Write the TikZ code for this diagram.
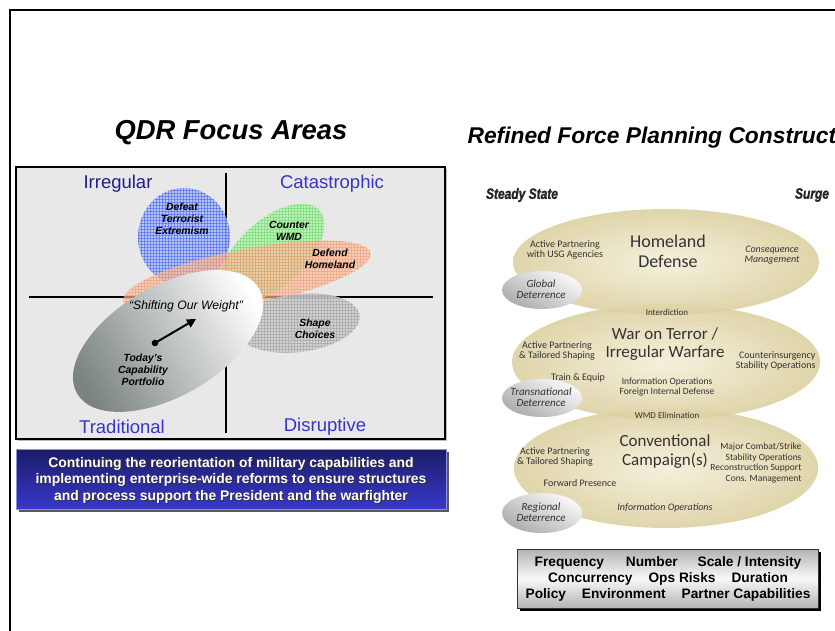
\documentclass[tikz,border=0pt]{standalone}
\usepackage{fontspec}
\setmainfont{Liberation Sans}
\newfontfamily\calfont{Carlito}
\newfontfamily\heavyfont[FakeStretch=0.8,FakeBold=1.5]{Liberation Sans}
\usetikzlibrary{patterns,arrows.meta}
\newcommand{\myfs}[2]{\fontsize{#1}{#2}\selectfont}
\definecolor{navyq}{HTML}{1E1E8E}
\definecolor{blueq}{HTML}{3535CC}
\definecolor{quadbg}{HTML}{E8E8E8}
\definecolor{beigeL}{HTML}{F4EFD8}
\definecolor{beigeD}{HTML}{DCD1A2}
\definecolor{rtxt}{HTML}{333333}
\definecolor{boxtop}{HTML}{1C1C66}
\definecolor{boxbot}{HTML}{3838CC}
\definecolor{ellblue}{HTML}{AEBFFA}
\definecolor{gridblue}{HTML}{4A66F0}
\definecolor{ellgreen}{HTML}{B0F4AA}
\definecolor{gridgreen}{HTML}{5CCC5C}
\definecolor{ellorange}{HTML}{F9C0A2}
\definecolor{gridorange}{HTML}{F08A5C}
\definecolor{ellgray}{HTML}{CDCDCD}
\definecolor{elldark}{HTML}{7A8282}
\definecolor{boxedge}{HTML}{9090DD}
\tikzset{
  quadlbl/.style={font=\myfs{18.5}{22}},
  ellbl/.style={font=\myfs{10.4}{12}\bfseries\itshape, align=center, text=black},
  rbig/.style={font=\calfont\myfs{18}{20}, align=center, text=rtxt},
  rsmall/.style={font=\calfont\myfs{10}{10.5}, align=center, text=rtxt},
  rital/.style={font=\calfont\myfs{10}{10.5}\itshape, align=center, text=rtxt},
  dsmall/.style={font=\calfont\myfs{11}{11}\itshape, align=center, text=rtxt},
}
\begin{document}
\begin{tikzpicture}[x=1pt,y=-1pt]
\useasboundingbox (0,0) rectangle (835,631);
\fill[white] (0,0) rectangle (835,631);
% outer frame
\draw[line width=2pt] (10,640) -- (10,10) -- (845,10);

% titles
\node[font=\myfs{27.4}{30}\bfseries\itshape] (t1) at (231,133) {QDR Focus Areas};
\node[font=\myfs{22.8}{26}\bfseries\itshape, anchor=west] (t2) at (464,138) {Refined Force Planning Construct};

% ---------- left quadrant panel ----------
\fill[gray!55] (18,169) rectangle (447,441);
\fill[quadbg] (16,167) rectangle (445,439);
\draw[line width=1.8pt] (16,167) rectangle (445,439);
\coordinate (vt) at (226,173);
\coordinate (vb) at (226,433);
\coordinate (hl) at (29,297);
\coordinate (hr) at (433,297);
\draw[line width=2.2pt] (vt) -- (vb);
\draw[line width=2.2pt] (hl) -- (hr);

\node[quadlbl, text=navyq] (irr) at (118,184) {Irregular};
\node[quadlbl, text=blueq] (cat) at (332,184) {Catastrophic};
\node[quadlbl, text=blueq] (tra) at (122,427) {Traditional};
\node[quadlbl, text=blueq] (dis) at (325,427) {Disruptive};

% blue ellipse
\fill[ellblue, fill opacity=0.88] (184,237) ellipse [x radius=46, y radius=49];
\fill[pattern=grid, pattern color=gridblue, opacity=0.6] (184,237) ellipse [x radius=46, y radius=49];
% green ellipse
\fill[rotate around={42:(272,253)}, fill=ellgreen, fill opacity=0.85] (272,253) ellipse [x radius=64, y radius=33];
\fill[rotate around={42:(272,253)}, pattern=grid, pattern color=gridgreen, opacity=0.4] (272,253) ellipse [x radius=64, y radius=33];
% orange ellipse
\fill[rotate around={11:(247,277)}, fill=ellorange, fill opacity=0.65] (247,277) ellipse [x radius=126, y radius=28];
\fill[rotate around={11:(247,277)}, pattern=grid, pattern color=gridorange, opacity=0.4] (247,277) ellipse [x radius=126, y radius=28];
% gray ellipse
\fill[rotate around={7:(298,323)}, fill=ellgray, fill opacity=0.9] (298,323) ellipse [x radius=62, y radius=29];
\fill[rotate around={7:(298,323)}, pattern=grid, pattern color=gray!80, opacity=0.45] (298,323) ellipse [x radius=62, y radius=29];
% big gradient ellipse
\shade[rotate around={30:(168,341)}, top color=white, middle color=gray!22, bottom color=elldark, shading angle=-60] (168,341) ellipse [x radius=105, y radius=55];

\node[ellbl] (dte) at (182,219) {Defeat\\Terrorist\\Extremism};
\node[ellbl] (cwmd) at (289,231) {Counter\\WMD};
\node[ellbl] (dh) at (330,259) {Defend\\Homeland};
\node[ellbl] (sc) at (315,329) {Shape\\Choices};
\node[font=\myfs{12.2}{14}\itshape] (sow) at (186,306) {“Shifting Our Weight”};
\node[ellbl] (tcp) at (143,370) {Today's\\Capability\\Portfolio};
\coordinate (dot) at (155,343);
\coordinate (tip) at (196,319);
\fill (dot) circle (3.3);
\draw[line width=2pt, -{Triangle[length=9pt,width=9pt]}] (dot) -- (tip);

% blue statement box
\fill[gray!70!black] (19,452) rectangle (449,512);
\shade[top color=boxtop, bottom color=boxbot] (16,449) rectangle (446,509);
\draw[boxedge, line width=0.8pt] (16,449) rectangle (446,509);
\node[font=\myfs{13.9}{16.5}\bfseries, align=center, text=black!80] (stmtsh) at (232,481)
 {Continuing the reorientation of military capabilities and\\implementing enterprise-wide reforms to ensure structures\\and process support the President and the warfighter};
\node[font=\myfs{13.9}{16.5}\bfseries, align=center, text=white] (stmt) at (231,480)
 {Continuing the reorientation of military capabilities and\\implementing enterprise-wide reforms to ensure structures\\and process support the President and the warfighter};

% ---------- right panel ----------
\node[font=\heavyfont\myfs{15}{16}\bfseries\itshape, text=black!85] (ss) at (522,195) {Steady State};
\node[font=\heavyfont\myfs{15}{16}\bfseries\itshape, text=black!85] (sg) at (812,195) {Surge};

\shade[inner color=beigeL, outer color=beigeD, opacity=0.9] (666,468) ellipse [x radius=152, y radius=60];
\shade[inner color=beigeL, outer color=beigeD, opacity=0.9] (666,362) ellipse [x radius=154, y radius=58];
\shade[inner color=beigeL, outer color=beigeD, opacity=0.9] (666,262) ellipse [x radius=153, y radius=53];

\shade[top color=gray!5, bottom color=gray!65, shading angle=-30] (542,290) ellipse [x radius=40, y radius=19];
\shade[top color=gray!5, bottom color=gray!65, shading angle=-30] (542,398) ellipse [x radius=40, y radius=19];
\shade[top color=gray!5, bottom color=gray!65, shading angle=-30] (542,513) ellipse [x radius=40, y radius=20];

\node[rbig] (hd) at (668,251) {Homeland\\Defense};
\node[rsmall] (ap1) at (565,250) {Active Partnering\\with USG Agencies};
\node[rital] (cm) at (772,255) {Consequence\\Management};
\node[dsmall] (gd) at (541,289) {Global\\Deterrence};
\node[rsmall, font=\calfont\myfs{9}{10}] (intd) at (667,312) {Interdiction};

\node[rbig, font=\calfont\myfs{17}{18}] (wot) at (665,344) {War on Terror /\\Irregular Warfare};
\node[rsmall] (ap2) at (557,351) {Active Partnering\\\& Tailored Shaping};
\node[rsmall, align=right, anchor=east] (ci) at (819,361) {Counterinsurgency\\Stability Operations};
\node[rsmall] (te) at (578,378) {Train \& Equip};
\node[rsmall, font=\calfont\myfs{9.5}{10}] (io1) at (667,387) {Information Operations\\Foreign Internal Defense};
\node[dsmall] (tnd) at (541,397) {Transnational\\Deterrence};
\node[rsmall, font=\calfont\myfs{9}{10}] (wmde) at (667,415) {WMD Elimination};

\node[rbig, font=\calfont\myfs{17}{19}] (cc) at (665,452) {Conventional\\Campaign(s)};
\node[rsmall] (ap3) at (555,457) {Active Partnering\\\& Tailored Shaping};
\node[rsmall, font=\calfont\myfs{9.5}{10.4}, align=right, anchor=east] (mc) at (805,463) {Major Combat/Strike\\Stability Operations\\Reconstruction Support\\Cons. Management};
\node[rsmall] (fp) at (580,483) {Forward Presence};
\node[dsmall] (rd) at (541,512) {Regional\\Deterrence};
\node[rital] (io2) at (665,508) {Information Operations};

% bottom factor box
\fill[black] (520,552) rectangle (821,611);
\shade[top color=gray!60, bottom color=gray!60, middle color=gray!5] (517,549) rectangle (818,608);
\draw[gray!40!black, line width=0.6pt] (517,549) rectangle (818,608);
\node[font=\myfs{13.7}{16}\bfseries, align=center] (fac) at (668,579)
 {Frequency\hspace{22pt}Number\hspace{20pt}Scale / Intensity\\Concurrency\hspace{16pt}Ops Risks\hspace{16pt}Duration\\Policy\hspace{16pt}Environment\hspace{16pt}Partner Capabilities};
\end{tikzpicture}
\end{document}
